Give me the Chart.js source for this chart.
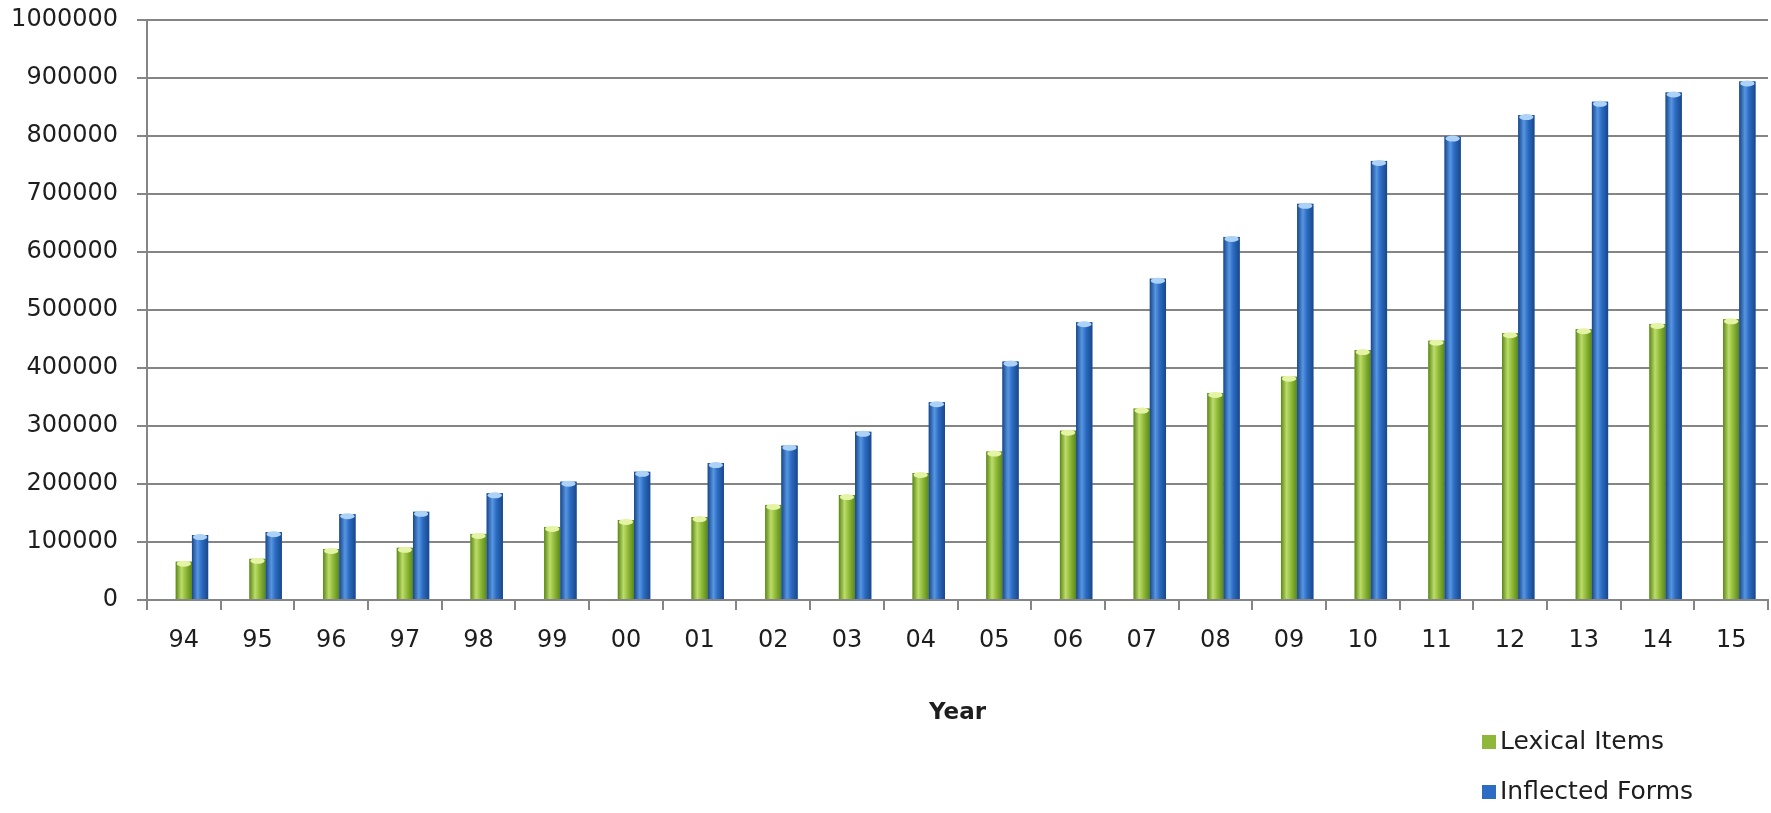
<!DOCTYPE html>
<html>
<head>
<meta charset="utf-8">
<script src="https://cdn.jsdelivr.net/npm/chart.js@4"></script>
<style>
  html, body { margin: 0; padding: 0; background: #fff; }
  #wrap { width: 1771px; height: 813px; }
</style>
</head>
<body>
<div id="wrap"><canvas id="chart"></canvas></div>
<script>
// years on the x axis
const years = ["94","95","96","97","98","99","00","01","02","03","04","05","06","07","08","09","10","11","12","13","14","15"];

// values
const lexicalItems = [66000, 71000, 88000, 90000, 114000, 126000, 138000, 143000, 164000, 181000, 219000, 256000, 292000, 330000, 357000, 385000, 431000, 447000, 460000, 467000, 476000, 484000];
const inflectedForms = [112000, 117000, 148000, 152000, 184000, 204000, 221000, 236000, 266000, 290000, 341000, 411000, 479000, 554000, 626000, 683000, 757000, 799000, 836000, 859000, 875000, 894000];

const seriesNames = ["Lexical Items", "Inflected Forms"];
const xTitle = "Year";

const FONT = "'DejaVu Sans', Verdana, sans-serif";
const TEXT = "#1e1e1e";
const GRID = "#858585";

// cylinder look: shade each bar sideways and light its top
const shades = {
  "Lexical Items":   { dark: "#5a8719", mid: "#93bd3c", light: "#bddc6a", cap: "#e4f4a4" },
  "Inflected Forms": { dark: "#19478a", mid: "#2c6cc2", light: "#5796e2", cap: "#acd2f7" }
};

const cylinderPlugin = {
  id: "cylinder",
  afterDatasetsDraw(chart) {
    const ctx = chart.ctx;
    chart.data.datasets.forEach((ds, i) => {
      const s = shades[ds.label];
      if (!s) return;
      chart.getDatasetMeta(i).data.forEach(bar => {
        const w = bar.width, x0 = bar.x - w / 2, top = bar.y, bottom = bar.base;
        const g = ctx.createLinearGradient(x0, 0, x0 + w, 0);
        g.addColorStop(0, s.dark);
        g.addColorStop(0.35, s.light);
        g.addColorStop(0.6, s.mid);
        g.addColorStop(1, s.dark);
        ctx.save();
        ctx.fillStyle = g;
        ctx.fillRect(x0, top, w, bottom - top);
        ctx.beginPath();
        ctx.ellipse(bar.x, top + 2, w / 2 - 1, 3, 0, 0, Math.PI * 2);
        ctx.fillStyle = s.cap;
        ctx.fill();
        ctx.restore();
      });
    });
  }
};

// legend stacked under the plot, bottom right
const sideLegend = {
  id: "sideLegend",
  afterDraw(chart) {
    const ctx = chart.ctx;
    ctx.save();
    ctx.font = "25px " + FONT;
    ctx.textBaseline = "middle";
    let row = 0;
    chart.data.datasets.forEach(ds => {
      if (!ds.label) return;
      const y = 742 + row * 50;
      const x = 1482;
      ctx.fillStyle = ds.backgroundColor;
      ctx.fillRect(x, y - 7, 14, 14);
      ctx.fillStyle = TEXT;
      ctx.fillText(ds.label, x + 18, y);
      row++;
    });
    ctx.restore();
  }
};

new Chart(document.getElementById("chart"), {
  type: "bar",
  data: {
    labels: years,
    datasets: [
      // empty slot so the pair sits a little right of each year, as in the original
      { label: "", data: [], backgroundColor: "transparent" },
      { label: seriesNames[0], data: lexicalItems, backgroundColor: "#8fb83a" },
      { label: seriesNames[1], data: inflectedForms, backgroundColor: "#2c6cc2" }
    ]
  },
  options: {
    responsive: true,
    maintainAspectRatio: false,
    animation: false,
    layout: { padding: { top: 20, right: 3, left: 0, bottom: 0 } },
    datasets: { bar: { categoryPercentage: 0.66, barPercentage: 1.0 } },
    plugins: {
      legend: { display: false },
      tooltip: { enabled: false }
    },
    scales: {
      x: {
        grid: { drawOnChartArea: false, drawTicks: true, tickLength: 10, color: GRID, lineWidth: 2 },
        border: { color: GRID, width: 2 },
        ticks: { color: TEXT, font: { family: FONT, size: 24 }, padding: 16, maxRotation: 0 },
        title: { display: true, text: xTitle, color: TEXT, font: { family: FONT, size: 23, weight: "bold" }, padding: { top: 0, bottom: 86 } },
        afterFit(scale) { scale.height = 213; }
      },
      y: {
        min: 0,
        max: 1000000,
        ticks: { stepSize: 100000, color: TEXT, font: { family: FONT, size: 24 }, padding: 19, callback: v => String(v) },
        grid: { color: GRID, lineWidth: 2, tickLength: 10 },
        border: { color: GRID, width: 2 },
        afterFit(scale) {
          scale.width = 147;
          scale.paddingTop = 0;
          scale.paddingBottom = 0;
        }
      }
    }
  },
  plugins: [cylinderPlugin, sideLegend]
});
</script>
</body>
</html>
